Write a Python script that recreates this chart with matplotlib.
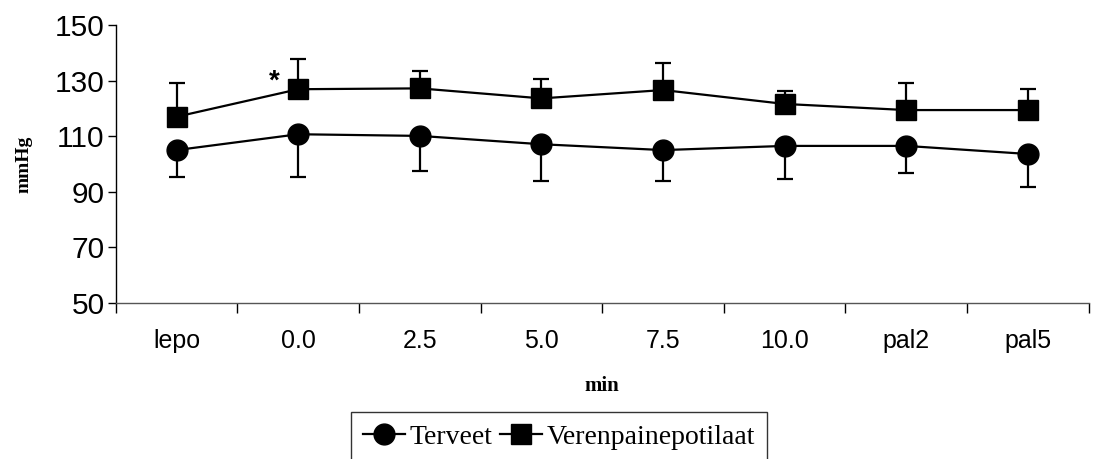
import matplotlib.pyplot as plt
from matplotlib.lines import Line2D
import numpy as np

# aikapisteet
kategoriat = ["lepo", "0.0", "2.5", "5.0", "7.5", "10.0", "pal2", "pal5"]

# Terveet: keskiarvo ja hajonta (piirretään alaspäin)
terveet = [105.0, 110.7, 110.1, 107.1, 105.0, 106.5, 106.5, 103.6]
terveet_sd = [9.7, 15.3, 12.6, 13.2, 11.1, 11.9, 9.7, 11.9]

# Verenpainepotilaat: keskiarvo ja hajonta (piirretään ylöspäin)
potilaat = [117.0, 126.9, 127.2, 123.6, 126.6, 121.6, 119.4, 119.4]
potilaat_sd = [12.1, 10.9, 6.4, 7.0, 9.8, 4.8, 9.8, 7.6]

tahti_kohta = 1
tahti_arvo = 129.5

fig = plt.figure(figsize=(10.93, 4.59), dpi=100)
ax = fig.add_axes([0.106, 0.340, 0.890, 0.6055])

x = np.arange(len(kategoriat))

ax.errorbar(x, terveet, yerr=[terveet_sd, np.zeros(len(x))], color="black",
            marker="o", markersize=15, linewidth=1.6, elinewidth=1.6,
            capsize=5.5, capthick=1.6, zorder=3)
ax.errorbar(x, potilaat, yerr=[np.zeros(len(x)), potilaat_sd], color="black",
            marker="s", markersize=14, linewidth=1.6, elinewidth=1.6,
            capsize=5.5, capthick=1.6, zorder=3)

ax.text(tahti_kohta - 0.2, tahti_arvo, "*", fontsize=20, ha="center",
        va="center", family="Liberation Sans", fontweight="bold")

ax.set_xlim(-0.5, len(x) - 0.5)
ax.set_ylim(50, 150)
ax.set_yticks(range(50, 151, 20))
ax.set_yticklabels([str(v) for v in range(50, 151, 20)],
                   family="Liberation Sans", fontsize=21.5)
ax.set_xticks(x)
ax.set_xticklabels(kategoriat, family="Liberation Sans", fontsize=18)
ax.set_xticks(np.arange(-0.5, len(x)), minor=True)
ax.tick_params(axis="x", which="major", length=0, pad=19)
ax.tick_params(axis="x", which="minor", length=7, direction="out", width=1)
ax.tick_params(axis="y", length=6, direction="out", width=1, pad=2)

for s in ["top", "right"]:
    ax.spines[s].set_visible(False)
ax.spines["left"].set_linewidth(1)
ax.spines["bottom"].set_linewidth(1)
ax.spines["bottom"].set_color("#555555")

ax.set_xlabel("min", family="Liberation Serif", fontweight="bold",
              fontsize=15, labelpad=16)
ax.set_ylabel("mmHg", family="Liberation Serif", fontweight="bold",
              fontsize=14, labelpad=16)

kahvat = [
    Line2D([], [], color="black", marker="o", markersize=15, linewidth=1.6),
    Line2D([], [], color="black", marker="s", markersize=14, linewidth=1.6),
]
fig.legend(kahvat, ["Terveet", "Verenpainepotilaat"],
           loc="upper left", bbox_to_anchor=(0.321, 0.103), ncol=2,
           frameon=True, fancybox=False, edgecolor="black",
           prop={"family": "Liberation Serif", "size": 20},
           handlelength=1.5, handletextpad=0.15, columnspacing=0.3,
           borderpad=0.45, borderaxespad=0)

fig.savefig("out.png", dpi=100)
